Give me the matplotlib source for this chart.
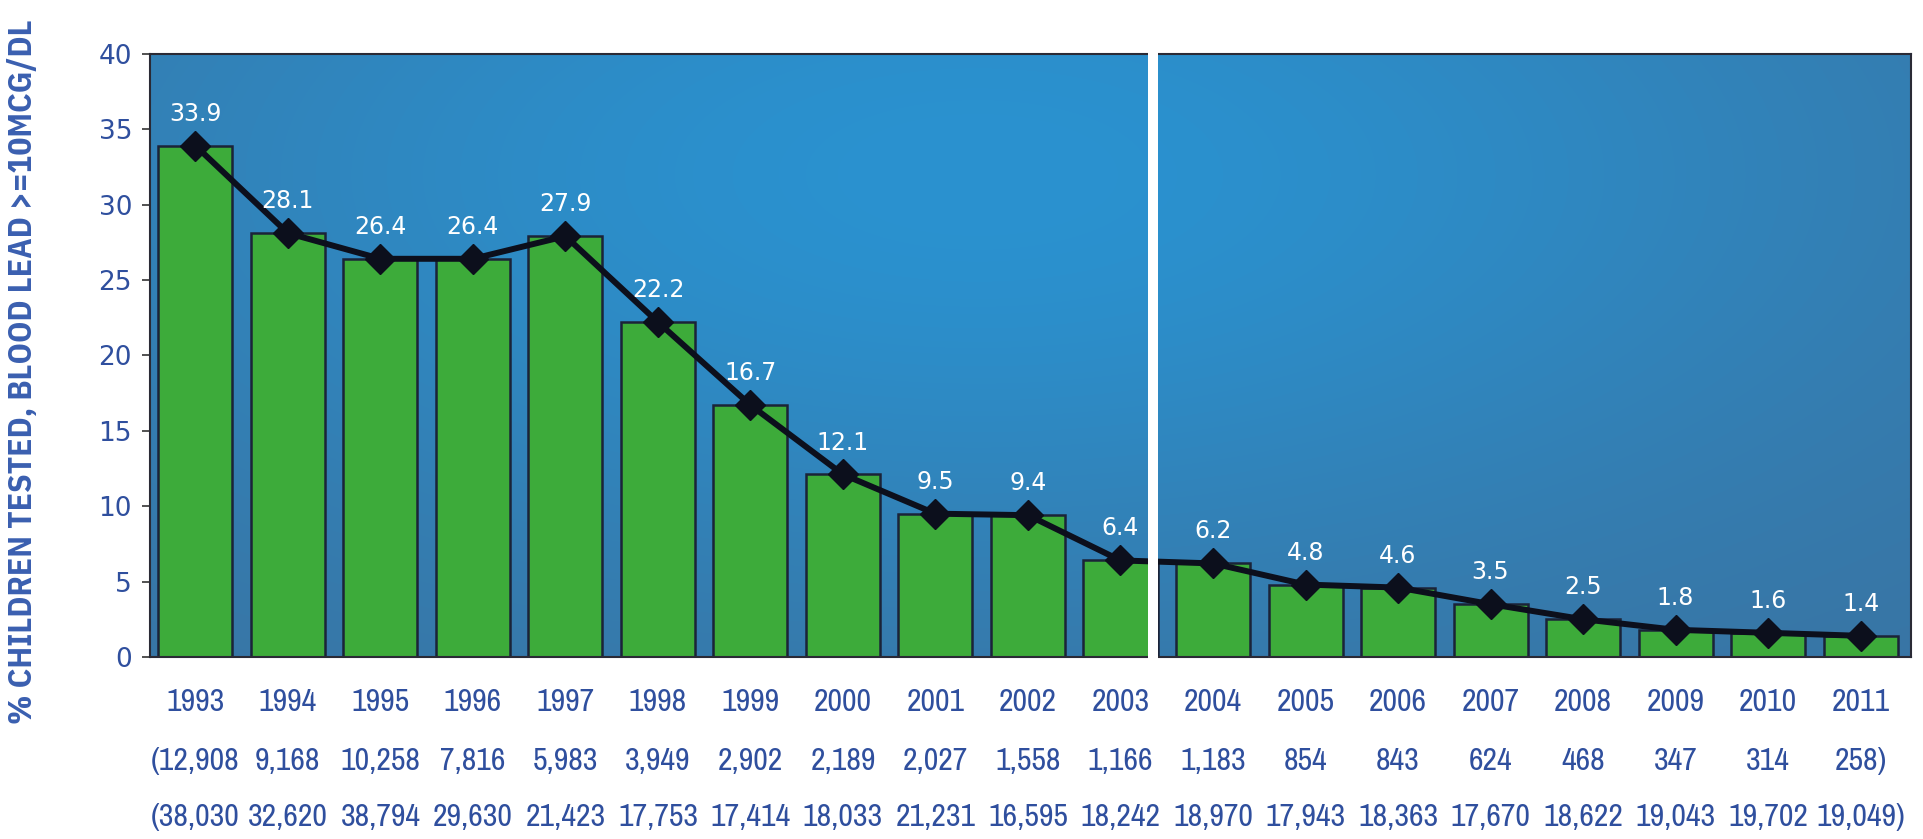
import numpy as np
import matplotlib
matplotlib.use("Agg")
import matplotlib.pyplot as plt
from matplotlib.patches import Rectangle

# данные с графика
years = [1993, 1994, 1995, 1996, 1997, 1998, 1999, 2000, 2001, 2002,
         2003, 2004, 2005, 2006, 2007, 2008, 2009, 2010, 2011]
pct_elevated = [33.9, 28.1, 26.4, 26.4, 27.9, 22.2, 16.7, 12.1, 9.5, 9.4,
                6.4, 6.2, 4.8, 4.6, 3.5, 2.5, 1.8, 1.6, 1.4]
n_elevated = [12908, 9168, 10258, 7816, 5983, 3949, 2902, 2189, 2027, 1558,
              1166, 1183, 854, 843, 624, 468, 347, 314, 258]
n_tested = [38030, 32620, 38794, 29630, 21423, 17753, 17414, 18033, 21231, 16595,
            18242, 18970, 17943, 18363, 17670, 18622, 19043, 19702, 19049]
y_ticks = [0, 5, 10, 15, 20, 25, 30, 35, 40]

blue_txt = '#2f4f9e'
narrow = ['Archivo Narrow', 'DejaVu Sans']
cond = ['IBM Plex Sans Condensed', 'DejaVu Sans']

fig = plt.figure(figsize=(19.24, 8.39), dpi=100)
ax = fig.add_axes([0.078, 0.217, 0.915, 0.719])

x = np.arange(len(years))
xmin, xmax = -0.49, 18.54
ax.set_xlim(xmin, xmax)
ax.set_ylim(0, 40)

# фон: синий градиент
gx = np.linspace(0, 1, 300)
gy = np.linspace(1, 0, 150)
U, V = np.meshgrid(gx, gy)
w = np.exp(-((U - 0.47) / 0.55) ** 2 - ((V - 0.8) / 0.7) ** 2)
dark = np.array([58, 114, 160]) / 255
bright = np.array([42, 146, 208]) / 255
img = dark[None, None, :] * (1 - w[..., None]) + bright[None, None, :] * w[..., None]
ax.imshow(img, extent=[xmin, xmax, 0, 40], aspect='auto', zorder=0, interpolation='bilinear')

ax.bar(x, pct_elevated, width=0.8, color='#3dab3a', edgecolor='#1b2338', linewidth=1.8, zorder=2)
ax.plot(x, pct_elevated, color='#0c0f1c', lw=4.3, marker='D', markersize=15, zorder=3)

for xi, v in zip(x, pct_elevated):
    ax.annotate(f'{v}', (xi, v), xytext=(0, 23), textcoords='offset points',
                ha='center', va='center', color='white', fontsize=17, zorder=4)

# белая полоса разрыва
ax.add_patch(Rectangle((10.30, -0.005), 0.11, 1.02, transform=ax.get_xaxis_transform(),
                       facecolor='white', edgecolor='none', clip_on=False, zorder=10))

ax.set_yticks(y_ticks)
ax.tick_params(axis='y', labelsize=19, labelcolor=blue_txt, length=6, width=1.2, color='#333333', pad=7)
ax.set_xticks([])
for s in ax.spines.values():
    s.set_color('#2a2a35')
    s.set_linewidth(1.5)

# подписи под осью: годы и численности
tr = ax.get_xaxis_transform()
row2 = [f'{n:,}' for n in n_elevated]
row2[0] = '(' + row2[0]
row2[-1] = row2[-1] + ')'
row3 = [f'{n:,}' for n in n_tested]
row3[0] = '(' + row3[0]
row3[-1] = row3[-1] + ')'
for i in range(len(years)):
    ax.text(x[i], -0.075, str(years[i]), transform=tr, ha='center', va='center',
            fontsize=23, color=blue_txt, family=narrow)
    ax.text(x[i], -0.172, row2[i], transform=tr, ha='center', va='center',
            fontsize=23, color=blue_txt, family=narrow)
    ax.text(x[i], -0.265, row3[i], transform=tr, ha='center', va='center',
            fontsize=23, color=blue_txt, family=narrow)

fig.text(0.012, 0.137, '% CHILDREN TESTED, BLOOD LEAD >=10MCG/DL', rotation=90,
         ha='center', va='bottom', fontsize=24, fontweight='bold', color='#3a5fb0', family=cond)

fig.savefig('out.png', dpi=100)
